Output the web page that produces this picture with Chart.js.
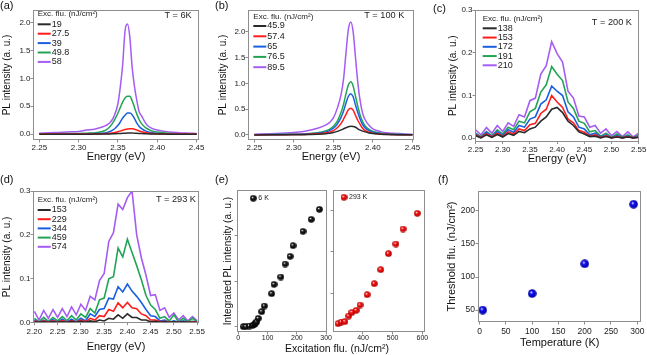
<!DOCTYPE html>
<html>
<head>
<meta charset="utf-8">
<script src="https://cdn.jsdelivr.net/npm/chart.js"></script>
<style>
  body { margin: 0; background: #fff; }
  #wrap { position: relative; width: 647px; height: 355px; overflow: hidden; font-family: "Liberation Sans", Arial, sans-serif; color: #111; }
  canvas { position: absolute; }
  .pl { position: absolute; font-size: 11px; line-height: 12px; }
  #eTitle { position: absolute; font-size: 10.5px; line-height: 12px; white-space: nowrap; transform: translateX(-50%); }
</style>
</head>
<body>
<div id="wrap">
  <canvas id="cA"></canvas>
  <canvas id="cB"></canvas>
  <canvas id="cC"></canvas>
  <canvas id="cD"></canvas>
  <canvas id="cE1"></canvas>
  <canvas id="cE2"></canvas>
  <canvas id="cF"></canvas>
  <div class="pl" style="left:0px;top:-1px">(a)</div>
  <div class="pl" style="left:215px;top:-1px">(b)</div>
  <div class="pl" style="left:433px;top:2px">(c)</div>
  <div class="pl" style="left:0px;top:173px">(d)</div>
  <div class="pl" style="left:215px;top:173px">(e)</div>
  <div class="pl" style="left:438px;top:173px">(f)</div>
  <div id="eTitle" style="left:337px;top:342px">Excitation flu. (nJ/cm²)</div>
</div>

<script>
// ---- data ----
const colors = ['#2a2a2a', '#ff1c1c', '#1a5fe0', '#23a455', '#a55cf2'];

// (a) T = 6 K
const fluA = ['19', '27.5', '39', '49.8', '58'];
const energyA = [2.25, 2.27, 2.29, 2.30, 2.31, 2.32, 2.33, 2.335, 2.34, 2.345, 2.35, 2.353, 2.356, 2.359, 2.362, 2.365, 2.368, 2.371, 2.374, 2.377, 2.38, 2.385, 2.39, 2.395, 2.40, 2.41, 2.42, 2.43, 2.44, 2.45];
const a19   = [0.002, 0.002, 0.002, 0.002, 0.002, 0.003, 0.004, 0.005, 0.006, 0.009, 0.012, 0.014, 0.017, 0.019, 0.021, 0.022, 0.022, 0.02, 0.018, 0.015, 0.012, 0.009, 0.006, 0.005, 0.004, 0.003, 0.002, 0.002, 0.002, 0.002];
const a27_5 = [0.003, 0.003, 0.003, 0.004, 0.005, 0.006, 0.008, 0.012, 0.018, 0.028, 0.045, 0.058, 0.072, 0.085, 0.095, 0.1, 0.1, 0.09, 0.075, 0.06, 0.045, 0.03, 0.018, 0.012, 0.008, 0.005, 0.004, 0.004, 0.003, 0.003];
const a39   = [0.005, 0.005, 0.008, 0.008, 0.01, 0.012, 0.02, 0.03, 0.05, 0.09, 0.16, 0.22, 0.29, 0.34, 0.38, 0.38, 0.35, 0.28, 0.2, 0.14, 0.1, 0.06, 0.035, 0.022, 0.015, 0.01, 0.008, 0.005, 0.005, 0.005];
const a49_8 = [0.01, 0.01, 0.015, 0.015, 0.02, 0.025, 0.05, 0.08, 0.14, 0.24, 0.38, 0.48, 0.58, 0.65, 0.68, 0.68, 0.6, 0.48, 0.36, 0.26, 0.19, 0.12, 0.08, 0.05, 0.04, 0.025, 0.015, 0.01, 0.008, 0.008];
const a58   = [0.02, 0.03, 0.045, 0.05, 0.075, 0.09, 0.13, 0.16, 0.21, 0.32, 0.55, 0.85, 1.25, 1.85, 1.97, 1.75, 1.2, 0.85, 0.6, 0.4, 0.33, 0.2, 0.13, 0.095, 0.075, 0.05, 0.035, 0.025, 0.02, 0.015];

// (b) T = 100 K
const fluB = ['45.9', '57.4', '65', '76.5', '89.5'];
const energyB = [2.25, 2.27, 2.29, 2.30, 2.31, 2.32, 2.33, 2.34, 2.345, 2.35, 2.355, 2.36, 2.363, 2.366, 2.369, 2.372, 2.375, 2.378, 2.381, 2.384, 2.387, 2.39, 2.395, 2.40, 2.41, 2.42, 2.43, 2.44, 2.45];
const b45_9 = [0.002, 0.003, 0.004, 0.005, 0.007, 0.01, 0.015, 0.025, 0.035, 0.05, 0.07, 0.1, 0.12, 0.14, 0.16, 0.17, 0.165, 0.15, 0.12, 0.095, 0.075, 0.06, 0.04, 0.028, 0.015, 0.009, 0.006, 0.004, 0.003];
const b57_4 = [0.003, 0.004, 0.006, 0.008, 0.01, 0.016, 0.023, 0.04, 0.055, 0.085, 0.14, 0.23, 0.31, 0.4, 0.49, 0.52, 0.48, 0.38, 0.28, 0.2, 0.13, 0.09, 0.055, 0.035, 0.018, 0.01, 0.007, 0.005, 0.004];
const b65   = [0.004, 0.006, 0.009, 0.012, 0.016, 0.024, 0.035, 0.06, 0.085, 0.13, 0.21, 0.35, 0.47, 0.62, 0.75, 0.8, 0.74, 0.58, 0.43, 0.3, 0.2, 0.14, 0.085, 0.055, 0.028, 0.016, 0.01, 0.006, 0.005];
const b76_5 = [0.005, 0.008, 0.012, 0.015, 0.02, 0.03, 0.045, 0.08, 0.11, 0.17, 0.27, 0.45, 0.6, 0.8, 0.97, 1.03, 0.95, 0.75, 0.55, 0.38, 0.26, 0.18, 0.11, 0.07, 0.035, 0.02, 0.012, 0.008, 0.006];
const b89_5 = [0.015, 0.025, 0.04, 0.05, 0.065, 0.09, 0.13, 0.19, 0.24, 0.33, 0.52, 0.8, 1.1, 1.6, 2.05, 2.19, 2.0, 1.5, 1.0, 0.65, 0.42, 0.3, 0.19, 0.12, 0.065, 0.04, 0.03, 0.02, 0.015];

// (c) T = 200 K
const fluC = ['138', '153', '172', '191', '210'];
const energyC = [2.25, 2.26, 2.27, 2.28, 2.29, 2.30, 2.31, 2.32, 2.33, 2.34, 2.35, 2.36, 2.37, 2.38, 2.39, 2.40, 2.41, 2.42, 2.43, 2.44, 2.45, 2.46, 2.47, 2.48, 2.49, 2.50, 2.51, 2.52, 2.53, 2.54, 2.55];
const c138 = [0.006, 0.001, 0.008, 0.002, 0.009, 0.003, 0.011, 0.007, 0.016, 0.013, 0.022, 0.026, 0.04, 0.05, 0.068, 0.072, 0.06, 0.04, 0.03, 0.015, 0.01, 0.004, 0.005, 0.001, 0.004, 0.001, 0.003, 0.001, 0.003, 0.001, 0.002];
const c153 = [0.008, 0.002, 0.01, 0.003, 0.012, 0.004, 0.015, 0.01, 0.022, 0.018, 0.032, 0.035, 0.058, 0.068, 0.1, 0.085, 0.072, 0.045, 0.036, 0.018, 0.014, 0.005, 0.008, 0.002, 0.006, 0.001, 0.004, 0.001, 0.004, 0.001, 0.003];
const c172 = [0.01, 0.002, 0.014, 0.004, 0.016, 0.006, 0.02, 0.014, 0.03, 0.026, 0.045, 0.05, 0.08, 0.09, 0.122, 0.11, 0.1, 0.062, 0.05, 0.026, 0.022, 0.008, 0.012, 0.003, 0.008, 0.001, 0.006, 0.001, 0.005, 0.001, 0.005];
const c191 = [0.012, 0.004, 0.016, 0.006, 0.02, 0.01, 0.026, 0.02, 0.04, 0.036, 0.062, 0.07, 0.108, 0.125, 0.168, 0.15, 0.135, 0.085, 0.07, 0.04, 0.035, 0.015, 0.018, 0.005, 0.012, 0.002, 0.01, 0.002, 0.008, 0.001, 0.008];
const c210 = [0.02, 0.008, 0.025, 0.012, 0.03, 0.016, 0.036, 0.028, 0.055, 0.05, 0.088, 0.094, 0.15, 0.17, 0.226, 0.198, 0.178, 0.11, 0.094, 0.052, 0.05, 0.026, 0.03, 0.012, 0.022, 0.006, 0.016, 0.004, 0.015, 0.003, 0.012];

// (d) T = 293 K
const fluD = ['153', '229', '344', '459', '574'];
const energyD = [2.20, 2.21, 2.22, 2.23, 2.24, 2.25, 2.26, 2.27, 2.28, 2.29, 2.30, 2.31, 2.32, 2.33, 2.34, 2.35, 2.36, 2.37, 2.38, 2.39, 2.40, 2.41, 2.42, 2.43, 2.44, 2.45, 2.46, 2.47, 2.48, 2.49, 2.50, 2.51, 2.52, 2.53, 2.54, 2.55];
const d153 = [0.002, 0.001, 0.002, 0.001, 0.002, 0.001, 0.002, 0.001, 0.003, 0.001, 0.003, 0.001, 0.004, 0.002, 0.006, 0.004, 0.01, 0.008, 0.018, 0.01, 0.02, 0.012, 0.012, 0.006, 0.006, 0.002, 0.003, 0.001, 0.002, 0.001, 0.002, 0.001, 0.002, 0.001, 0.001, 0.001];
const d229 = [0.004, 0.001, 0.004, 0.001, 0.004, 0.001, 0.005, 0.001, 0.005, 0.001, 0.006, 0.002, 0.01, 0.006, 0.016, 0.014, 0.03, 0.026, 0.045, 0.034, 0.046, 0.034, 0.032, 0.02, 0.016, 0.006, 0.006, 0.002, 0.003, 0.001, 0.002, 0.001, 0.002, 0.001, 0.002, 0.001];
const d344 = [0.006, 0.001, 0.006, 0.001, 0.007, 0.001, 0.008, 0.002, 0.008, 0.002, 0.01, 0.004, 0.02, 0.014, 0.03, 0.032, 0.056, 0.054, 0.082, 0.07, 0.088, 0.072, 0.06, 0.046, 0.03, 0.016, 0.014, 0.004, 0.006, 0.001, 0.004, 0.001, 0.004, 0.001, 0.003, 0.001];
const d459 = [0.01, 0.002, 0.012, 0.003, 0.012, 0.004, 0.014, 0.005, 0.016, 0.006, 0.02, 0.012, 0.032, 0.022, 0.052, 0.056, 0.1, 0.105, 0.17, 0.15, 0.19, 0.16, 0.13, 0.098, 0.062, 0.04, 0.03, 0.01, 0.014, 0.004, 0.018, 0.002, 0.01, 0.002, 0.01, 0.002];
const d574 = [0.026, 0.006, 0.028, 0.01, 0.03, 0.012, 0.032, 0.014, 0.036, 0.018, 0.042, 0.028, 0.06, 0.052, 0.096, 0.112, 0.185, 0.205, 0.27, 0.258, 0.285, 0.3, 0.2, 0.148, 0.108, 0.062, 0.064, 0.028, 0.034, 0.012, 0.022, 0.006, 0.016, 0.004, 0.014, 0.004];

// (e) integrated PL vs excitation fluence
const flu6K = [17, 26, 38, 49, 55, 59, 63, 68, 80, 89, 114, 122, 145, 160, 177, 187, 221, 249, 277];
const int6K = [0, 0, 2, 4, 7, 11, 15, 25, 45, 62, 99, 127, 149, 188, 211, 243, 286, 322, 352];
const flu293K = [316, 327, 339, 352, 363, 377, 390, 414, 438, 460, 486, 511, 535, 583];
const int293K = [9, 14, 15, 32, 43, 49, 65, 96, 129, 171, 219, 248, 293, 340];

// (f) threshold vs temperature
const temps = [6, 100, 200, 293];
const thresholds = [50, 75, 120, 210];

// tick labels
const xTicksAB = [2.25, 2.30, 2.35, 2.40, 2.45];
const yTicksAB = [0, 0.5, 1.0, 1.5, 2.0];
const xTicksC = [2.25, 2.30, 2.35, 2.40, 2.45, 2.50, 2.55];
const xTicksD = [2.20, 2.25, 2.30, 2.35, 2.40, 2.45, 2.50, 2.55];
const yTicksCD = [0, 0.1, 0.2, 0.3];
const xTicksE1 = [0, 100, 200, 300];
const xTicksE2 = [400, 500, 600];
const yTicksE1 = [0, 137, 273];
const yTicksE2 = [100, 225, 350];
const xTicksF = [0, 50, 100, 150, 200, 250, 300];
const yTicksF = [50, 100, 150, 200];

// ---- drawing ----
const FONT = '"Liberation Sans", Arial, sans-serif';
const FRAME = '#8e8e8e';
Chart.defaults.font.family = FONT;
Chart.defaults.color = '#222';
Chart.defaults.animation = false;
Chart.defaults.plugins.legend.display = false;
Chart.defaults.plugins.tooltip.enabled = false;

// box round the plot area
const framePlugin = {
  id: 'frame',
  afterDraw(chart) {
    const a = chart.chartArea, c = chart.ctx;
    c.save();
    c.strokeStyle = FRAME;
    c.lineWidth = 1;
    c.strokeRect(Math.round(a.left) + 0.5, Math.round(a.top) + 0.5, Math.round(a.right - a.left) - 1, Math.round(a.bottom - a.top) - 1);
    c.restore();
  }
};

// legend block, temperature tag, and ball labels of (e)
const notePlugin = {
  id: 'note',
  afterDatasetsDraw(chart, args, o) {
    const a = chart.chartArea, c = chart.ctx;
    c.save();
    c.textBaseline = 'middle';
    c.fillStyle = '#222';
    if (o.title) {
      c.font = '8px ' + FONT;
      c.fillText(o.title, a.left + o.x, a.top + o.y);
      c.font = '9px ' + FONT;
      chart.data.datasets.forEach((d, i) => {
        const yy = a.top + o.y + o.first + o.row * i;
        c.strokeStyle = d.borderColor;
        c.lineWidth = 2;
        c.beginPath();
        c.moveTo(a.left + o.x, yy);
        c.lineTo(a.left + o.x + o.sw, yy);
        c.stroke();
        c.fillText(d.label, a.left + o.x + o.sw + 1, yy);
      });
    }
    if (o.tag) {
      c.font = '9.2px ' + FONT;
      c.textAlign = 'right';
      c.fillText(o.tag, a.right - o.tagX, a.top + o.tagY);
      c.textAlign = 'left';
    }
    if (o.ball) {
      const d = chart.data.datasets[0], img = d.pointStyle;
      c.drawImage(img, a.left + o.bx - img.width / 2, a.top + o.by - img.height / 2);
      c.font = '7px ' + FONT;
      c.fillText(d.label, a.left + o.bx + 5, a.top + o.by);
    }
    c.restore();
  }
};
Chart.register(framePlugin, notePlugin);

function ball(d, body, edge) {
  const cv = document.createElement('canvas');
  cv.width = cv.height = d;
  const g = cv.getContext('2d');
  const r = d / 2;
  const grad = g.createRadialGradient(r * 0.75, r * 0.7, r * 0.05, r, r, r);
  grad.addColorStop(0, '#ffffff');
  grad.addColorStop(0.3, body);
  grad.addColorStop(1, edge);
  g.fillStyle = grad;
  g.beginPath();
  g.arc(r, r, r - 0.2, 0, Math.PI * 2);
  g.fill();
  return cv;
}

function axis(pos, min, max, vals, fmt, o) {
  return {
    type: 'linear', position: pos, min: min, max: max,
    afterBuildTicks: s => { s.ticks = vals.map(v => ({ value: v })); },
    grid: { display: true, drawOnChartArea: false, drawTicks: true, tickLength: 2.5, color: FRAME, tickColor: FRAME },
    border: { display: false },
    ticks: { display: o.labels !== false, autoSkip: false, maxRotation: 0, padding: o.tpad || 0,
             font: { size: o.tsize || 8 }, color: '#222', callback: v => fmt(v) },
    title: { display: !!o.title, text: o.title, color: '#111', font: { size: o.fsize || 10 },
             padding: pos === 'left' ? { top: o.pad, bottom: 0 } : { top: 0, bottom: o.pad } }
  };
}

function makeChart(id, box, area, datasets, xAxis, yAxis, note) {
  const cv = document.getElementById(id);
  cv.width = box.w; cv.height = box.h;
  cv.style.left = box.left + 'px'; cv.style.top = box.top + 'px';
  xAxis.afterFit = s => { s.height = box.top + box.h - area.b; };
  yAxis.afterFit = s => { s.width = area.l - box.left; };
  return new Chart(cv, {
    type: 'line',
    data: { datasets: datasets },
    options: {
      responsive: false,
      layout: { padding: { top: area.t - box.top, right: box.left + box.w - area.r, left: 0, bottom: 0 } },
      scales: { x: xAxis, y: yAxis },
      plugins: { note: note || {} }
    }
  });
}

function spectra(energy, series, labels, width, smooth) {
  return series.map((ys, i) => ({
    label: labels[i],
    data: energy.map((e, k) => ({ x: e, y: ys[k] })),
    borderColor: colors[i],
    borderWidth: width,
    pointRadius: 0,
    tension: 0,
    cubicInterpolationMode: smooth ? 'monotone' : 'default'
  }));
}

const f1 = v => v.toFixed(1), f2 = v => v.toFixed(2), f0 = v => String(v);
const PLY = 'PL intensity (a. u.)', EN = 'Energy (eV)', LEGT = 'Exc. flu. (nJ/cm²)';

makeChart('cA', { left: 0, top: 0, w: 215, h: 175 }, { l: 33, t: 10, r: 199, b: 140 },
  spectra(energyA, [a19, a27_5, a39, a49_8, a58], fluA, 1.5, true),
  axis('bottom', 2.242, 2.453, xTicksAB, f2, { title: EN, fsize: 11, pad: 11.4, tpad: 0 }),
  axis('left', -0.102, 2.22, yTicksAB, f1, { title: PLY, fsize: 10, pad: 1.2 }),
  { title: LEGT, x: 4.7, y: 4, first: 10.3, row: 9.4, sw: 13, tag: 'T = 6K', tagX: 7.3, tagY: 5.7 });

makeChart('cB', { left: 215, top: 0, w: 215, h: 175 }, { l: 248, t: 10, r: 414, b: 140 },
  spectra(energyB, [b45_9, b57_4, b65, b76_5, b89_5], fluB, 1.5, true),
  axis('bottom', 2.242, 2.452, xTicksAB, f2, { title: EN, fsize: 11, pad: 11.4, tpad: 0 }),
  axis('left', -0.097, 2.42, yTicksAB, f1, { title: PLY, fsize: 10, pad: 2.5 }),
  { title: LEGT, x: 5.3, y: 6.7, first: 9.3, row: 10.3, sw: 13, tag: 'T = 100 K', tagX: 9.7, tagY: 5.7 });

makeChart('cC', { left: 430, top: 0, w: 217, h: 175 }, { l: 475, t: 10, r: 640, b: 141.5 },
  spectra(energyC, [c138, c153, c172, c191, c210], fluC, 1.6, false),
  axis('bottom', 2.249, 2.551, xTicksC, f2, { title: EN, fsize: 11, pad: 9.1, tpad: 0.5 }),
  axis('left', -0.0075, 0.3, yTicksCD, f1, { title: PLY, fsize: 10, pad: 16.8 }),
  { title: LEGT, x: 7.7, y: 9, first: 9.3, row: 9.25, sw: 14, tag: 'T = 200 K', tagX: 7.3, tagY: 12.7 });

makeChart('cD', { left: 0, top: 175, w: 215, h: 180 }, { l: 33, t: 191, r: 199, b: 322.7 },
  spectra(energyD, [d153, d229, d344, d459, d574], fluD, 1.6, false),
  axis('bottom', 2.197, 2.554, xTicksD, f2, { title: EN, fsize: 11, pad: 1.7, tpad: 2 }),
  axis('left', 0, 0.3, yTicksCD, f1, { title: PLY, fsize: 10, pad: 1.2 }),
  { title: LEGT, x: 4.7, y: 9, first: 10, row: 9.2, sw: 13, tag: 'T = 293 K', tagX: 3, tagY: 8 });

const ballK = ball(7, '#1a1a1a', '#000000');
const ballR = ball(7, '#ff1010', '#a00000');
const ballB = ball(9, '#1010ff', '#000090');

makeChart('cE1', { left: 215, top: 175, w: 125, h: 180 }, { l: 237, t: 190, r: 327, b: 332 },
  [{ label: '6 K', data: flu6K.map((x, i) => ({ x: x, y: int6K[i] })), showLine: false,
     pointStyle: ballK, pointRadius: 3 }],
  axis('bottom', -4.5, 303, xTicksE1, f0, { tsize: 7, tpad: -0.5 }),
  axis('left', -16, 410, yTicksE1, f0, { labels: false, title: 'Integrated PL intensity (a. u.)', fsize: 10, pad: 7.5 }),
  { ball: true, bx: 16.3, by: 8.3 });

makeChart('cE2', { left: 328, top: 175, w: 110, h: 180 }, { l: 330, t: 190, r: 425, b: 332 },
  [{ label: '293 K', data: flu293K.map((x, i) => ({ x: x, y: int293K[i] })), showLine: false,
     pointStyle: ballR, pointRadius: 3 }],
  axis('bottom', 299, 609, xTicksE2, f0, { tsize: 7, tpad: -0.5 }),
  axis('left', -16, 410, yTicksE2, f0, { labels: false }),
  { ball: true, bx: 11, by: 7.3 });

makeChart('cF', { left: 430, top: 175, w: 217, h: 180 }, { l: 478, t: 191, r: 643, b: 322 },
  [{ label: 'threshold', data: temps.map((x, i) => ({ x: x, y: thresholds[i] })), showLine: false,
     pointStyle: ballB, pointRadius: 4 }],
  axis('bottom', -3, 308, xTicksF, f0, { title: 'Temperature (K)', fsize: 11, pad: 5.4, tsize: 8.5, tpad: 2.5 }),
  axis('left', 32, 230, yTicksF, f0, { title: 'Threshold flu. (nJ/cm²)', fsize: 11, pad: 15.4, tsize: 8.5, tpad: 0.5 }),
  {});
</script>
</body>
</html>
